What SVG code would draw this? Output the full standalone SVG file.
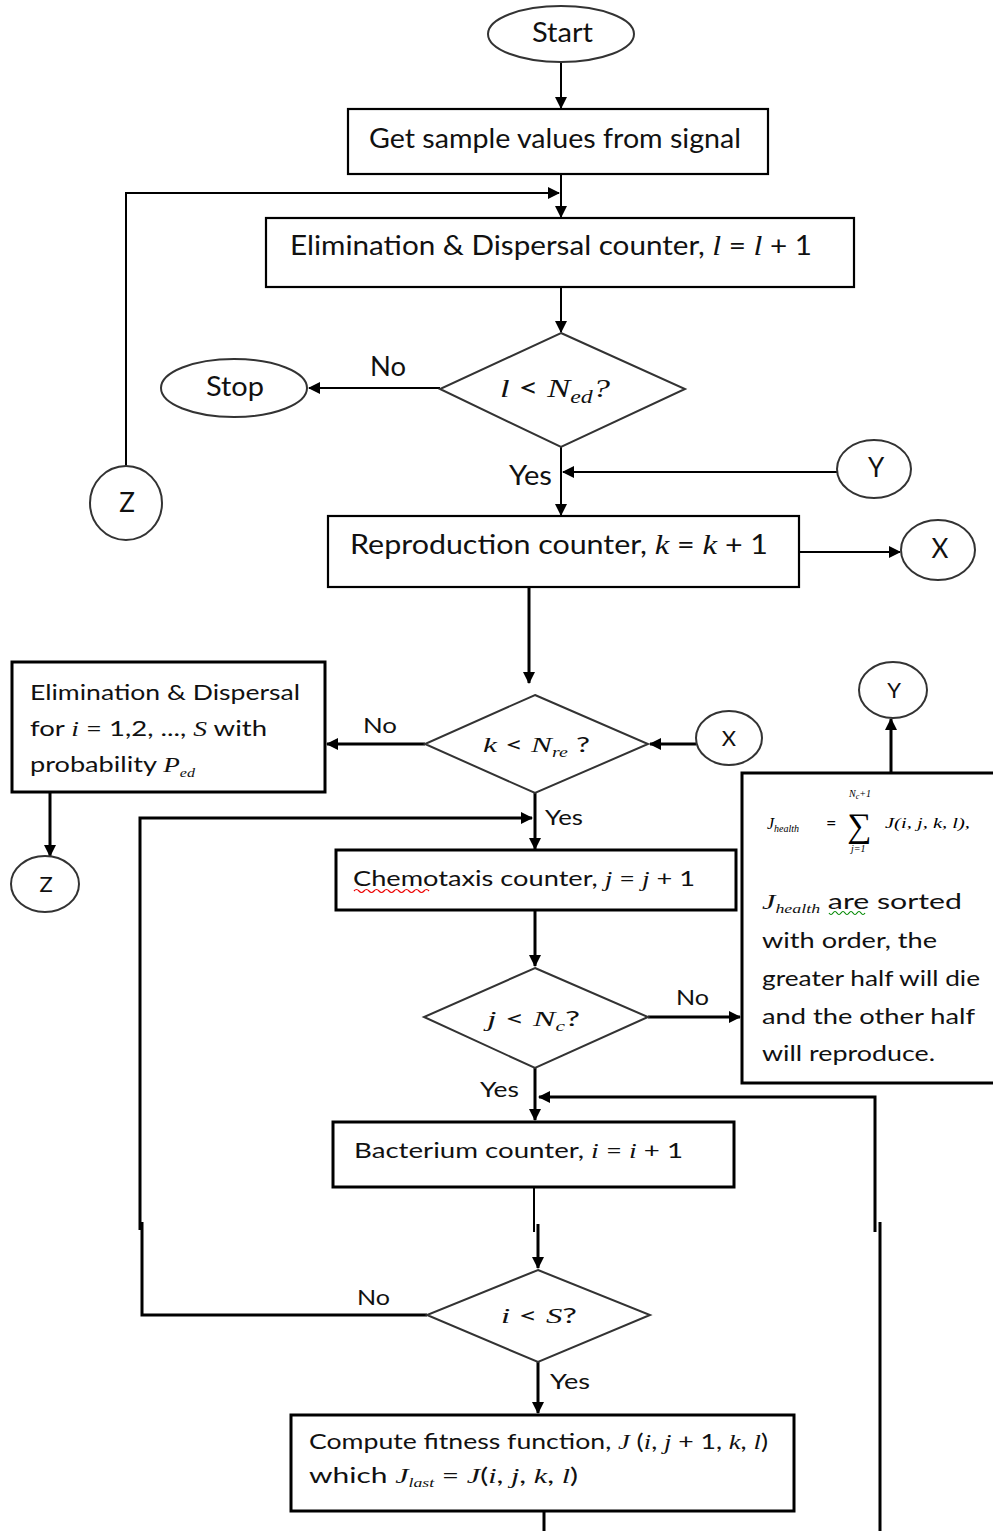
<svg xmlns="http://www.w3.org/2000/svg" width="993" height="1531" viewBox="0 0 993 1531">
<style>
.bx{fill:#fff;stroke:#000;stroke-width:2.2}
.bx3{fill:#fff;stroke:#000;stroke-width:3}
.dm{fill:#fff;stroke:#333;stroke-width:2}
.el{fill:#fff;stroke:#333;stroke-width:2}
.t{font-family:Lato,"Open Sans","Liberation Sans",sans-serif;font-size:26px;fill:#111}
.s{font-family:Lato,"Open Sans","Liberation Sans",sans-serif;font-size:22px;fill:#111}
.m{font-family:"Liberation Serif","DejaVu Serif",serif;font-style:italic}
.c{text-anchor:middle}
.cn path{fill:none;stroke:#000;stroke-width:2}
.cn .th{stroke-width:3}
</style>
<defs>
<marker id="a" viewBox="0 0 12 12" refX="11" refY="6" markerWidth="12" markerHeight="12" markerUnits="userSpaceOnUse" orient="auto">
<path d="M0,0 L12,6 L0,12 Z" fill="#000"/>
</marker>
</defs>
<rect width="993" height="1531" fill="#fff"/>

<g class="cn">
<path d="M561,62 V108" marker-end="url(#a)"/>
<path d="M561,174 V217" marker-end="url(#a)"/>
<path d="M126,467 V193 H559" marker-end="url(#a)"/>
<path d="M561,287 V332" marker-end="url(#a)"/>
<path d="M440,388 H309" marker-end="url(#a)"/>
<path d="M561,447 V515" marker-end="url(#a)"/>
<path d="M837,472 H563" marker-end="url(#a)"/>
<path d="M799,552 H900" marker-end="url(#a)"/>
<path class="th" d="M529,587 V683" marker-end="url(#a)"/>
<path class="th" d="M696,744 H650" marker-end="url(#a)"/>
<path class="th" d="M425,744 H327" marker-end="url(#a)"/>
<path class="th" d="M50,793 V856" marker-end="url(#a)"/>
<path class="th" d="M535,793 V849" marker-end="url(#a)"/>
<path class="th" d="M140,1230 V818 H532" marker-end="url(#a)"/>
<path class="th" d="M427,1315 H142 V1222"/>
<path class="th" d="M535,910 V966" marker-end="url(#a)"/>
<path class="th" d="M648,1017 H740" marker-end="url(#a)"/>
<path class="th" d="M891,773 V719" marker-end="url(#a)"/>
<path class="th" d="M535,1068 V1120" marker-end="url(#a)"/>
<path class="th" d="M875,1232 V1097 H539" marker-end="url(#a)"/>
<path class="th" d="M880,1222 V1531"/>
<path d="M534,1187 V1232"/>
<path class="th" d="M538,1224 V1268" marker-end="url(#a)"/>
<path class="th" d="M538,1362 V1413" marker-end="url(#a)"/>
<path class="th" d="M544,1511 V1531"/>
</g>

<g id="start"><ellipse class="el" cx="561" cy="34" rx="73" ry="28"/><text class="t" x="532" y="42" textLength="61" lengthAdjust="spacingAndGlyphs">Start</text></g>
<g id="getsample"><rect class="bx" x="348" y="109" width="420" height="65"/><text class="t" x="369" y="148" textLength="372" lengthAdjust="spacingAndGlyphs">Get sample values from signal</text></g>
<g id="edcounter"><rect class="bx" x="266" y="218" width="588" height="69"/><text class="t" x="290" y="255" textLength="522" lengthAdjust="spacingAndGlyphs">Elimination &amp; Dispersal counter, <tspan class="m" font-size="28">l</tspan> = <tspan class="m" font-size="28">l</tspan> + 1</text></g>
<g id="dec-ed"><polygon class="dm" points="561,333 685,389 561,447 440,389"/><text class="t" x="500" y="397" font-size="28" textLength="110" lengthAdjust="spacingAndGlyphs"><tspan class="m">l</tspan> &lt; <tspan class="m">N</tspan><tspan class="m" font-size="18" dy="6">ed</tspan><tspan class="m" dy="-6">?</tspan></text></g>
<g id="stop"><ellipse class="el" cx="234" cy="388" rx="73" ry="29"/><text class="t" x="206" y="396" textLength="58" lengthAdjust="spacingAndGlyphs">Stop</text></g>
<text class="t" x="370" y="376" textLength="36" lengthAdjust="spacingAndGlyphs">No</text>
<text class="t" x="509" y="485" textLength="43" lengthAdjust="spacingAndGlyphs">Yes</text>
<g id="z1"><ellipse class="el" cx="126" cy="503" rx="36" ry="37"/><text class="t c" x="127" y="512">Z</text></g>
<g id="y1"><ellipse class="el" cx="874" cy="469" rx="37" ry="29"/><text class="t c" x="876" y="477">Y</text></g>
<g id="repro"><rect class="bx" x="328" y="516" width="471" height="71"/><text class="t" x="350" y="554" textLength="418" lengthAdjust="spacingAndGlyphs">Reproduction counter, <tspan class="m" font-size="28">k</tspan> = <tspan class="m" font-size="28">k</tspan> + 1</text></g>
<g id="x1"><ellipse class="el" cx="938" cy="550" rx="37" ry="30"/><text class="t c" x="940" y="558">X</text></g>

<g id="dec-re"><polygon class="dm" points="535,695 648,744 535,793 425,744"/><text class="s" x="483" y="752" font-size="24" textLength="107" lengthAdjust="spacingAndGlyphs"><tspan class="m">k</tspan> &lt; <tspan class="m">N</tspan><tspan class="m" font-size="14" dy="5">re</tspan><tspan dy="-5"> ?</tspan></text></g>
<g id="x2"><ellipse class="el" cx="729" cy="738" rx="33" ry="27"/><text class="s c" x="729" y="746">X</text></g>
<text class="s" x="363" y="733" textLength="34" lengthAdjust="spacingAndGlyphs">No</text>
<g id="edbox"><rect class="bx3" x="12" y="662" width="313" height="130"/>
<text class="s" x="30" y="700" textLength="270" lengthAdjust="spacingAndGlyphs">Elimination &amp; Dispersal</text>
<text class="s" x="30" y="736" textLength="237" lengthAdjust="spacingAndGlyphs">for <tspan class="m">i</tspan>  = 1,2, ..., <tspan class="m">S</tspan> with</text>
<text class="s" x="30" y="772" textLength="165" lengthAdjust="spacingAndGlyphs">probability <tspan class="m">P</tspan><tspan class="m" font-size="13" dy="5">ed</tspan></text></g>
<g id="z2"><ellipse class="el" cx="45" cy="884" rx="34" ry="28"/><text class="s c" x="46" y="892">Z</text></g>
<text class="s" x="545" y="825" textLength="38" lengthAdjust="spacingAndGlyphs">Yes</text>
<g id="chemo"><rect class="bx3" x="336" y="850" width="400" height="60"/><text class="s" x="353" y="886" textLength="342" lengthAdjust="spacingAndGlyphs">Chemotaxis counter, <tspan class="m">j</tspan> = <tspan class="m">j</tspan> + 1</text>
<path d="M354,891 q2.5,-3 5,0 t5,0 t5,0 t5,0 t5,0 t5,0 t5,0 t5,0 t5,0 t5,0 t5,0 t5,0 t5,0 t5,0 t5,0" fill="none" stroke="#e00" stroke-width="1.2"/></g>
<g id="dec-c"><polygon class="dm" points="535,968 648,1017 535,1068 424,1017"/><text class="s" x="487" y="1026" font-size="24" textLength="93" lengthAdjust="spacingAndGlyphs"><tspan class="m">j</tspan> &lt; <tspan class="m">N</tspan><tspan class="m" font-size="14" dy="5">c</tspan><tspan dy="-5">?</tspan></text></g>
<text class="s" x="676" y="1005" textLength="33" lengthAdjust="spacingAndGlyphs">No</text>
<text class="s" x="480" y="1097" textLength="39" lengthAdjust="spacingAndGlyphs">Yes</text>
<g id="healthbox"><rect class="bx3" x="742" y="773" width="262" height="310"/>
<text class="m" font-size="16" x="767" y="829">J<tspan font-size="10" dy="3">health</tspan></text>
<text font-family="Lato,sans-serif" font-size="18" x="826" y="829">=</text>
<text font-family="'Liberation Serif',serif" font-size="34" x="847" y="837">∑</text>
<text class="m" font-size="10" x="849" y="797">N<tspan font-size="8" dy="2">c</tspan><tspan dy="-2">+1</tspan></text>
<text class="m" font-size="10" x="851" y="852">j=1</text>
<text class="m" font-size="15" x="885" y="828" textLength="85" lengthAdjust="spacingAndGlyphs">J(i, j, k, l),</text>
<text class="s" x="762" y="909" textLength="200" lengthAdjust="spacingAndGlyphs"><tspan class="m">J</tspan><tspan class="m" font-size="13" dy="4">health</tspan><tspan dy="-4"> are sorted</tspan></text>
<path d="M829,913 q2,3 4,0 t4,0 t4,0 t4,0 t4,0 t4,0 t4,0 t4,0 t4,0" fill="none" stroke="#080" stroke-width="1.2"/>
<text class="s" x="762" y="948" textLength="175" lengthAdjust="spacingAndGlyphs">with order, the</text>
<text class="s" x="762" y="986" textLength="218" lengthAdjust="spacingAndGlyphs">greater half will die</text>
<text class="s" x="762" y="1024" textLength="213" lengthAdjust="spacingAndGlyphs">and the other half</text>
<text class="s" x="762" y="1061" textLength="173" lengthAdjust="spacingAndGlyphs">will reproduce.</text></g>
<g id="y2"><ellipse class="el" cx="893" cy="690" rx="34" ry="28"/><text class="s c" x="894" y="698">Y</text></g>
<g id="bact"><rect class="bx3" x="333" y="1122" width="401" height="65"/><text class="s" x="354" y="1158" textLength="329" lengthAdjust="spacingAndGlyphs">Bacterium counter, <tspan class="m">i</tspan>  = <tspan class="m">i</tspan> + 1</text></g>
<g id="dec-s"><polygon class="dm" points="538,1270 650,1315 538,1362 427,1315"/><text class="s" x="501" y="1323" font-size="24" textLength="76" lengthAdjust="spacingAndGlyphs"><tspan class="m">i</tspan> &lt; <tspan class="m">S</tspan>?</text></g>
<text class="s" x="357" y="1305" textLength="33" lengthAdjust="spacingAndGlyphs">No</text>
<text class="s" x="550" y="1389" textLength="40" lengthAdjust="spacingAndGlyphs">Yes</text>
<g id="fitness"><rect class="bx3" x="291" y="1415" width="503" height="96"/>
<text class="s" x="309" y="1449" textLength="459" lengthAdjust="spacingAndGlyphs">Compute fitness function, <tspan class="m">J</tspan> (<tspan class="m">i</tspan>, <tspan class="m">j</tspan> + 1, <tspan class="m">k</tspan>, <tspan class="m">l</tspan>)</text>
<text class="s" x="309" y="1483" textLength="269" lengthAdjust="spacingAndGlyphs">which <tspan class="m">J</tspan><tspan class="m" font-size="13" dy="4">last</tspan><tspan dy="-4">  = </tspan><tspan class="m">J</tspan>(<tspan class="m">i</tspan>, <tspan class="m">j</tspan>, <tspan class="m">k</tspan>, <tspan class="m">l</tspan>)</text></g>
</svg>
